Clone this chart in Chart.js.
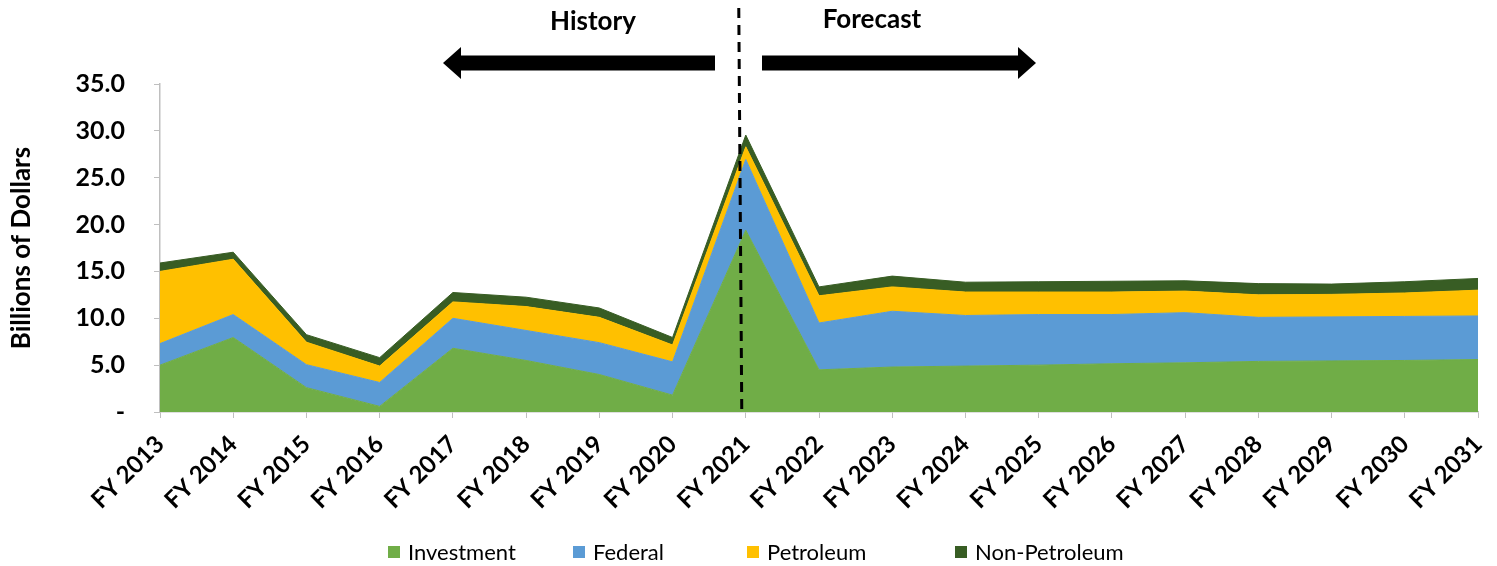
<!DOCTYPE html>
<html>
<head>
<meta charset="utf-8">
<script src="https://cdn.jsdelivr.net/npm/chart.js@4"></script>
<style>
  html, body { margin:0; padding:0; background:#fff; }
  #wrap { position:relative; width:1497px; height:566px; }
  #legend { position:absolute; top:538px; left:0; width:1497px; height:28px; font-family:Lato, sans-serif; font-size:22px; color:#000; }
  .li { position:absolute; top:0; display:flex; align-items:center; white-space:nowrap; }
  .sw { width:12px; height:12px; margin-right:8px; }
</style>
</head>
<body>
<div id="wrap">
  <canvas id="c" width="1497" height="566"></canvas>
  <div id="legend"></div>
</div>
<script>
// fiscal years
const years = ['FY 2013','FY 2014','FY 2015','FY 2016','FY 2017','FY 2018','FY 2019','FY 2020','FY 2021',
  'FY 2022','FY 2023','FY 2024','FY 2025','FY 2026','FY 2027','FY 2028','FY 2029','FY 2030','FY 2031'];

// billions of dollars, stacked
const investment = [5.0, 7.95, 2.6, 0.6, 6.8, 5.5, 4.0, 1.8, 19.4, 4.5, 4.8, 4.9, 5.0, 5.15, 5.25, 5.4, 5.45, 5.5, 5.6];
const federal    = [2.3, 2.45, 2.45, 2.55, 3.2, 3.2, 3.4, 3.55, 7.55, 5.0, 5.95, 5.4, 5.4, 5.25, 5.35, 4.7, 4.7, 4.7, 4.65];
const petroleum  = [7.7, 5.9, 2.4, 1.75, 1.75, 2.55, 2.7, 1.8, 1.35, 2.9, 2.6, 2.5, 2.4, 2.4, 2.3, 2.4, 2.4, 2.5, 2.75];
const nonPetroleum = [0.9, 0.75, 0.8, 0.9, 1.0, 1.0, 1.0, 0.8, 1.25, 0.95, 1.15, 1.05, 1.1, 1.15, 1.1, 1.2, 1.1, 1.2, 1.25];

const seriesNames = ['Investment','Federal','Petroleum','Non-Petroleum'];
const seriesColors = ['#70AD47','#5B9BD5','#FFC000','#385D24'];
const seriesData = [investment, federal, petroleum, nonPetroleum];

const yTicks = [0, 5, 10, 15, 20, 25, 30, 35];
const splitYear = 'FY 2021';

const axisGray = '#bfbfbf';

// history / forecast marker + arrows
const markerPlugin = {
  id:'marker',
  afterDatasetsDraw(chart){
    const ctx = chart.ctx, x = chart.scales.x, area = chart.chartArea;
    const sx = x.getPixelForValue(years.indexOf(splitYear)) - 4;
    ctx.save();
    ctx.strokeStyle = '#000'; ctx.lineWidth = 3; ctx.setLineDash([10,7]);
    ctx.beginPath(); ctx.moveTo(sx - 3, 8); ctx.lineTo(sx, area.bottom); ctx.stroke();
    ctx.setLineDash([]);
    ctx.fillStyle = '#000';
    const ay = 63;
    // left arrow
    ctx.beginPath();
    ctx.moveTo(443, ay); ctx.lineTo(461, ay - 16); ctx.lineTo(461, ay - 7.5); ctx.lineTo(715, ay - 7.5);
    ctx.lineTo(715, ay + 7.5); ctx.lineTo(461, ay + 7.5); ctx.lineTo(461, ay + 16); ctx.closePath(); ctx.fill();
    // right arrow
    ctx.beginPath();
    ctx.moveTo(1036, ay); ctx.lineTo(1018, ay - 16); ctx.lineTo(1018, ay - 7.5); ctx.lineTo(762, ay - 7.5);
    ctx.lineTo(762, ay + 7.5); ctx.lineTo(1018, ay + 7.5); ctx.lineTo(1018, ay + 16); ctx.closePath(); ctx.fill();
    ctx.font = 'bold 26px Lato'; ctx.textAlign = 'center'; ctx.textBaseline = 'middle';
    ctx.fillText('History', 593, 22);
    ctx.fillText('Forecast', 872, 20);
    ctx.restore();
  }
};

const datasets = seriesData.map((d,i)=>({
  label: seriesNames[i], data: d,
  backgroundColor: seriesColors[i], borderColor: seriesColors[i], borderWidth: 1,
  fill: i === 0 ? 'origin' : '-1', pointRadius: 0, tension: 0
}));

new Chart(document.getElementById('c'), {
  type:'line',
  data:{ labels: years, datasets },
  plugins:[markerPlugin],
  options:{
    responsive:false, animation:false,
    layout:{ padding:{ top:84, right:19, left:0, bottom:0 } },
    plugins:{ legend:{ display:false }, tooltip:{ enabled:false } },
    scales:{
      x:{
        offset:false,
        grid:{ drawOnChartArea:false, drawTicks:true, tickLength:6, color:axisGray },
        border:{ color:axisGray, width:1.5 },
        ticks:{ minRotation:45, maxRotation:45, autoSkip:false, padding:12, color:'#000', font:{ family:'Lato', size:24, weight:'bold' } },
        afterFit(s){ s.height = 154; s.paddingRight = 0; s.paddingLeft = 0; }
      },
      y:{
        stacked:true, min:0, max:35,
        afterBuildTicks(s){ s.ticks = yTicks.map(v=>({value:v})); },
        grid:{ drawOnChartArea:false, drawTicks:true, tickLength:6, color:axisGray },
        border:{ color:axisGray, width:1.5 },
        ticks:{ padding:29, color:'#000', font:{ family:'Lato', size:25, weight:'bold' },
          callback: v => v === 0 ? '-' : Number(v).toFixed(1) },
        title:{ display:true, text:'Billions of Dollars', color:'#000', font:{ family:'Lato', size:26, weight:'bold' }, padding:{ top:6, bottom:0 } },
        afterFit(s){ s.width = 160; }
      }
    }
  }
});

// legend
const legendLefts = [388, 573, 747, 955];
const legend = document.getElementById('legend');
seriesNames.forEach((n,i)=>{
  const it = document.createElement('div'); it.className = 'li'; it.style.left = legendLefts[i] + 'px';
  it.innerHTML = `<span class="sw" style="background:${seriesColors[i]}"></span><span>${n}</span>`;
  legend.appendChild(it);
});
</script>
</body>
</html>
